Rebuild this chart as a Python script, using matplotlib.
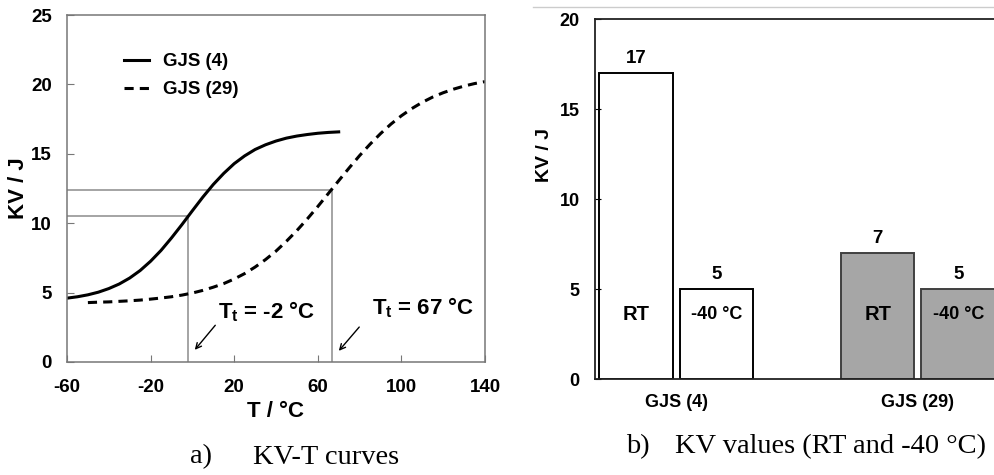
import matplotlib
matplotlib.use("Agg")
import matplotlib.pyplot as plt
from matplotlib.lines import Line2D

# a) KV-T curves
temp_gjs4 = [-60, -55, -50, -45, -40, -35, -30, -25, -20, -15, -10, -5, 0, 5,
             10, 15, 20, 25, 30, 35, 40, 45, 50, 55, 60, 65, 70]
kv_gjs4 = [4.60, 4.70, 4.84, 5.03, 5.29, 5.62, 6.05, 6.59, 7.26, 8.04, 8.94,
           9.90, 10.90, 11.88, 12.79, 13.59, 14.29, 14.85, 15.31, 15.65, 15.92,
           16.13, 16.28, 16.39, 16.48, 16.54, 16.58]

temp_gjs29 = [-50, -45, -40, -35, -30, -25, -20, -15, -10, -5, 0, 5, 10, 15,
              20, 25, 30, 35, 40, 45, 50, 55, 60, 65, 70, 75, 80, 85, 90, 95,
              100, 105, 110, 115, 120, 125, 130, 135, 140]
kv_gjs29 = [4.28, 4.31, 4.33, 4.37, 4.41, 4.46, 4.53, 4.61, 4.70, 4.82, 4.97,
            5.16, 5.39, 5.65, 5.98, 6.37, 6.84, 7.38, 7.99, 8.70, 9.47, 10.31,
            11.20, 12.13, 13.06, 13.98, 14.87, 15.69, 16.45, 17.14, 17.74,
            18.26, 18.71, 19.09, 19.40, 19.66, 19.88, 20.06, 20.20]

# transition temperatures and the KV level at each
t_trans = [-2, 67]
kv_trans = [10.5, 12.4]
trans_labels = ["T$_\\mathregular{t}$ = -2 °C", "T$_\\mathregular{t}$ = 67 °C"]

x1_ticks = [-60, -20, 20, 60, 100, 140]
y1_ticks = [0, 5, 10, 15, 20, 25]

# b) KV values
materials = ["GJS (4)", "GJS (29)"]
kv_rt = [17, 7]
kv_m40 = [5, 5]
y2_ticks = [0, 5, 10, 15, 20]

plt.rcParams["font.family"] = ["Liberation Sans", "DejaVu Sans"]
plt.rcParams["mathtext.fontset"] = "custom"
plt.rcParams["mathtext.rm"] = "Liberation Sans:bold"
plt.rcParams["axes.unicode_minus"] = False

fig = plt.figure(figsize=(9.94, 4.75), dpi=100)

# ---------- left panel ----------
ax1 = fig.add_axes([0.0674, 0.2379, 0.4205, 0.7305])
ax1.plot(temp_gjs4, kv_gjs4, color="black", lw=2.2, label="GJS (4)")
ax1.plot(temp_gjs29, kv_gjs29, color="black", lw=2.2, ls=(0, (3, 2)),
         label="GJS (29)")

for t, kv in zip(t_trans, kv_trans):
    ax1.plot([-60, t], [kv, kv], color="#8c8c8c", lw=1.1, zorder=1)
    ax1.plot([t, t], [0, kv], color="#8c8c8c", lw=1.1, zorder=1)

text_pos = [(12.2, 3.6), (86.0, 3.9)]
arrow_tail = [(11.8, 2.8), (80.7, 2.67)]
arrow_head = [(0.3, 0.72), (69.2, 0.65)]
for lab, tp, tail, head in zip(trans_labels, text_pos, arrow_tail, arrow_head):
    ax1.text(tp[0], tp[1], lab, fontsize=16, fontweight="bold",
             ha="left", va="center")
    ax1.annotate("", xy=head, xytext=tail,
                 arrowprops=dict(arrowstyle="->", color="black", lw=1.0))

ax1.set_xlim(-60, 140)
ax1.set_ylim(0, 25)
ax1.set_xticks(x1_ticks, [str(v) for v in x1_ticks], fontsize=13.5,
               fontweight="bold")
ax1.set_yticks(y1_ticks, [str(v) for v in y1_ticks], fontsize=13.5,
               fontweight="bold")
ax1.tick_params(direction="in", length=5, color="#777777", pad=11)
ax1.tick_params(axis="x", pad=12)
for sp in ax1.spines.values():
    sp.set_color("#777777")
    sp.set_linewidth(1.1)
ax1.set_xlabel("T / °C", fontsize=16, fontweight="bold", labelpad=4)
ax1.set_ylabel("KV / J", fontsize=16, fontweight="bold")
ax1.yaxis.set_label_coords(-0.09, 0.5)
leg = ax1.legend(loc="upper left", bbox_to_anchor=(0.136, 0.89),
                 frameon=False, handlelength=1.35, handletextpad=0.75,
                 labelspacing=0.6, borderpad=0, borderaxespad=0,
                 prop={"weight": "bold", "size": 13.4})

# ---------- right panel ----------
ax2 = fig.add_axes([0.5986, 0.2021, 0.4064, 0.7579])
x = list(range(len(materials)))
width = 0.304
shift = 0.1665
faces = ["white", "#a6a6a6"]
edges = ["black", "#404040"]
x_rt = [i - shift for i in x]
x_m40 = [i + shift for i in x]
ax2.bar(x_rt, kv_rt, width=width, color=faces, edgecolor=edges, lw=1.4)
ax2.bar(x_m40, kv_m40, width=width, color=faces, edgecolor=edges, lw=1.4)

for xs, vals in ((x_rt, kv_rt), (x_m40, kv_m40)):
    for xi, v in zip(xs, vals):
        ax2.text(xi, v + 0.35, str(v), ha="center", va="bottom",
                 fontsize=13.5, fontweight="bold")
for xi in x_rt:
    ax2.text(xi, 3.6, "RT", ha="center", va="center", fontsize=14.5,
             fontweight="bold")
for xi in x_m40:
    ax2.text(xi, 3.6, "-40 °C", ha="center", va="center", fontsize=13,
             fontweight="bold")

ax2.set_xlim(-0.335, 1.335)
ax2.set_ylim(0, 20)
ax2.set_yticks(y2_ticks, [str(v) for v in y2_ticks], fontsize=13,
               fontweight="bold")
ax2.set_xticks(x, materials, fontsize=13, fontweight="bold")
ax2.tick_params(axis="y", direction="in", length=4, pad=11)
ax2.tick_params(axis="x", length=0, pad=11)
for sp in ax2.spines.values():
    sp.set_color("#222222")
    sp.set_linewidth(1.3)
ax2.set_ylabel("KV / J", fontsize=14, fontweight="bold")
ax2.yaxis.set_label_coords(-0.104, 0.622)

# outer chart-area border of the right panel
fig.add_artist(Line2D([533 / 994, 1.0], [1 - 7 / 475, 1 - 7 / 475],
                      color="#cccccc", lw=1.0))

# captions
cap = dict(fontsize=20.5, family=["Liberation Serif", "DejaVu Serif"],
           va="center", ha="left")
fig.text(190 / 994, 1 - 457 / 475, "a)", **cap)
fig.text(253 / 994, 1 - 457 / 475, "KV-T curves", **cap)
fig.text(626 / 994, 1 - 447 / 475, "b)", **cap)
fig.text(675 / 994, 1 - 447 / 475, "KV values (RT and -40 °C)", **cap)

fig.savefig("out.png", dpi=100)
